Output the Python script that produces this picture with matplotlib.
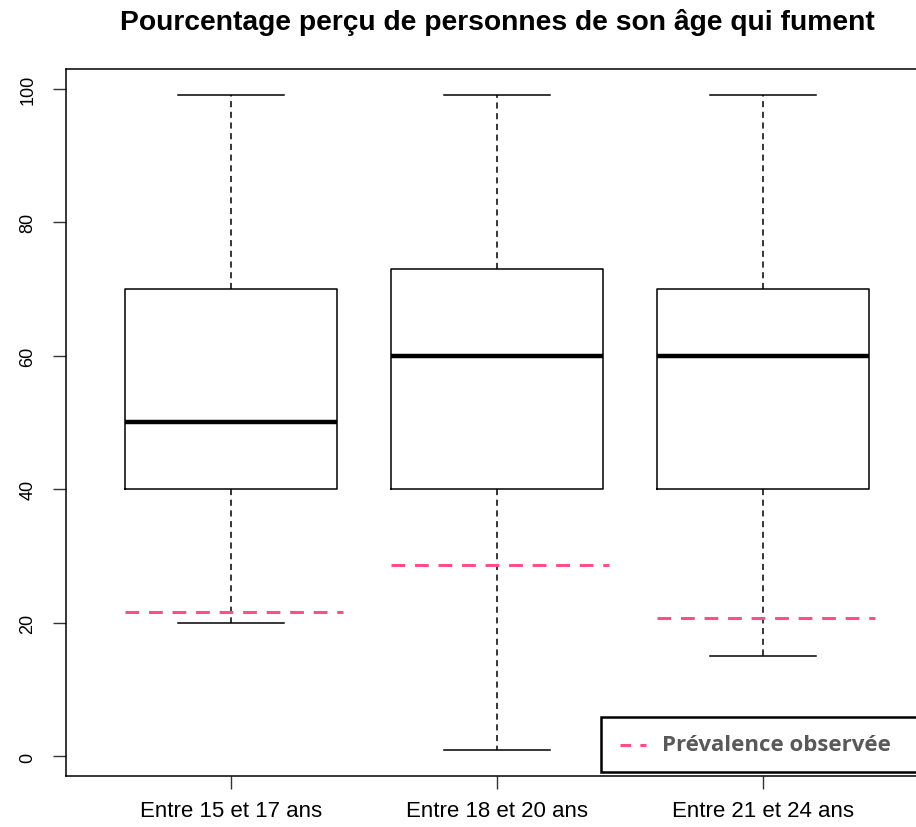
import matplotlib
matplotlib.use("Agg")
import matplotlib.pyplot as plt
from matplotlib.patches import Rectangle
from matplotlib.lines import Line2D

groupes = ["Entre 15 et 17 ans", "Entre 18 et 20 ans", "Entre 21 et 24 ans"]
minimum = [20, 1, 15]
q1 = [40, 40, 40]
mediane = [50, 60, 60]
q3 = [70, 73, 70]
maximum = [99, 99, 99]
prevalence = [21.6, 28.7, 20.8]

fig = plt.figure(figsize=(9.16, 8.28), dpi=100)
# axe un peu plus large que la figure : le cadre droit sort de l'image
ax = fig.add_axes([66 / 916, 51 / 828, 862 / 916, 707 / 828])

stats = []
for i, g in enumerate(groupes):
    stats.append(dict(label=g, whislo=minimum[i], q1=q1[i], med=mediane[i],
                      q3=q3[i], whishi=maximum[i], fliers=[]))

pos = [1, 2, 3]
ax.bxp(stats, positions=pos, widths=0.8, showfliers=False,
       boxprops=dict(color="black", linewidth=1.1),
       medianprops=dict(color="black", linewidth=3.2),
       whiskerprops=dict(color="black", linewidth=1.1, linestyle=(0, (4, 3))),
       capprops=dict(color="black", linewidth=1.1), capwidths=0.4)

rose = "#ff4f86"
for i, p in enumerate(prevalence):
    ax.hlines(p, pos[i] - 0.4, pos[i] + 0.42, colors=rose, linewidth=2.2,
              linestyles=(0, (4.5, 3.2)), zorder=5)

ax.set_xlim(0.38, 3.62)
ax.set_ylim(-2.92, 102.92)
ax.set_yticks([0, 20, 40, 60, 80, 100])
ax.set_xticks(pos)
ax.set_xticklabels(groupes, fontsize=16, family="Liberation Sans")
for lab in ax.get_yticklabels():
    lab.set_rotation(90)
    lab.set_va("center")
    lab.set_family("Liberation Sans")
    lab.set_fontsize(13)
ax.tick_params(axis="both", length=9.5, width=1, color="#333333")
ax.tick_params(axis="x", pad=8)
ax.tick_params(axis="y", pad=12)
for s in ax.spines.values():
    s.set_linewidth(1.1)

fig.text(497 / 916, 1 - 22 / 828, "Pourcentage perçu de personnes de son âge qui fument",
         ha="center", va="center", fontsize=20.3, fontweight="bold",
         family="Liberation Sans")

# cartouche de légende
cadre = Rectangle((601 / 916, 1 - 773 / 828), 330 / 916, 55 / 828,
                  transform=fig.transFigure, facecolor="white",
                  edgecolor="black", linewidth=1.8, zorder=10)
fig.patches.append(cadre)
fig.lines.append(Line2D([620 / 916, 646 / 916], [1 - 746 / 828] * 2,
                        transform=fig.transFigure, color=rose, linewidth=2.2,
                        linestyle=(0, (3.5, 3)), zorder=11))
fig.text(662 / 916, 1 - 746 / 828, "Prévalence observée", ha="left", va="center",
         fontsize=16, fontweight="bold", color="#595959", family="Open Sans",
         zorder=11)

fig.savefig("out.png", dpi=100)
